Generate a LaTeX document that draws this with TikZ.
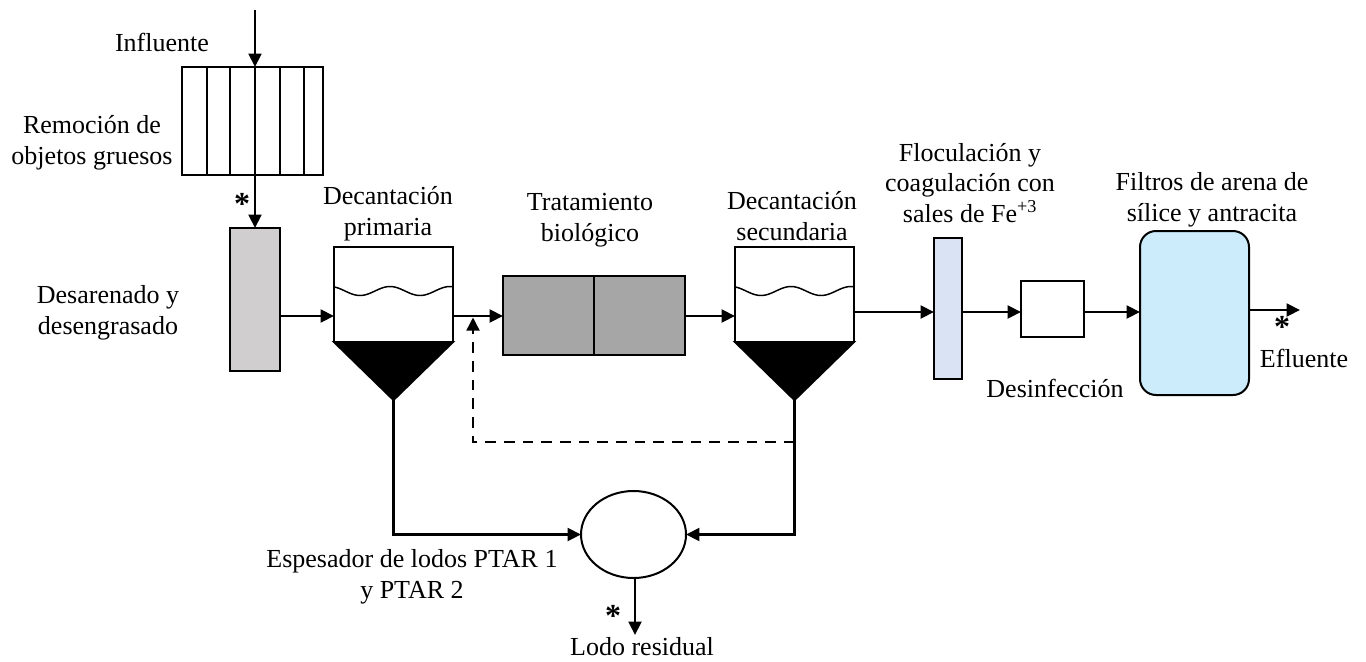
\documentclass[tikz,border=0pt]{standalone}
\usepackage{fontspec}
\setmainfont{Liberation Serif}
\usetikzlibrary{arrows.meta, shapes.geometric, calc}
\newcommand{\flowArrow}{{Triangle[length=10pt, width=9.5pt]}}
\definecolor{gritGray}{HTML}{D0CECE}
\definecolor{bioGray}{HTML}{A6A6A6}
\definecolor{flocBlue}{HTML}{DAE3F3}
\definecolor{filterBlue}{HTML}{CCEBFB}

\begin{document}
\begin{tikzpicture}[x=0.75pt, y=-0.75pt, font=\fontsize{19.5}{23}\selectfont,
	unit/.style={draw, line width=1.5pt, inner sep=0pt, outer sep=0pt},
	flow/.style={line width=2.2pt, -\flowArrow},
	lbl/.style={align=center, inner sep=0pt},
	star/.style={font=\fontsize{24}{24}\selectfont\bfseries, inner sep=0pt, anchor=base}]
	\useasboundingbox (0,0) rectangle (1366,661);

	% process units
	\node[unit, minimum width=141*0.75pt, minimum height=108*0.75pt]	(screen) at (252,121) {};
	\foreach \d in {25,48,73.5,98,122}
		\draw[line width=1.5pt] ([xshift=\d*0.75pt]screen.north west) -- ([xshift=\d*0.75pt]screen.south west);
	\node[unit, fill=gritGray, minimum width=50*0.75pt, minimum height=143*0.75pt]	(grit) at (255,299.5) {};
	\node[unit, minimum width=119*0.75pt, minimum height=95*0.75pt]	(primary) at (393.5,294.5) {};
	\node[unit, fill=bioGray, minimum width=182*0.75pt, minimum height=79*0.75pt]	(bio) at (594,315.5) {};
	\draw[line width=0.8pt] (bio.north) -- (bio.south);
	\node[unit, minimum width=119*0.75pt, minimum height=95*0.75pt]	(secondary) at (794.5,294.5) {};
	\node[unit, fill=flocBlue, minimum width=28*0.75pt, minimum height=141*0.75pt]	(floc) at (948,308.5) {};
	\node[unit, minimum width=63*0.75pt, minimum height=56*0.75pt]	(disinf) at (1052.5,309) {};
	\node[unit, fill=filterBlue, rounded corners=12pt, minimum width=109*0.75pt, minimum height=164*0.75pt]	(filter) at (1194.5,313) {};
	\node[unit, ellipse, minimum width=105*0.75pt, minimum height=87*0.75pt]	(thick) at (633.5,534.5) {};

	% clarifier cones and water surface
	\coordinate (papex) at ($(primary.south)+(0,58)$);
	\coordinate (sapex) at ($(secondary.south)+(0,58)$);
	\draw[line width=1.5pt, fill=black] (primary.south west) -- (primary.south east) -- (papex) -- cycle;
	\draw[line width=1.5pt, fill=black] (secondary.south west) -- (secondary.south east) -- (sapex) -- cycle;
	\draw[line width=1.1pt] plot[domain=334:453, samples=60] (\x, {291-4.5*cos(6*(\x-330))});
	\draw[line width=1.1pt] plot[domain=735:854, samples=60] (\x, {291-4.5*cos(6*(\x-731))});

	% main flow
	\coordinate (inf) at (255,10);
	\coordinate (lvl) at (0,316);
	\coordinate (lvlb) at (0,312);
	\coordinate (eff) at (1300,310);
	\draw[flow]	(inf) -- (inf |- screen.north);
	\draw[flow]	(screen.south -| grit) -- (grit.north);
	\draw[flow]	(grit.east |- lvl) -- (primary.west |- lvl);
	\draw[flow]	(primary.east |- lvl) -- (bio.west |- lvl);
	\draw[flow]	(bio.east |- lvl) -- (secondary.west |- lvl);
	\draw[flow]	(secondary.east |- lvlb) -- (floc.west |- lvlb);
	\draw[flow]	(floc.east |- lvlb) -- (disinf.west |- lvlb);
	\draw[flow]	(disinf.east |- lvlb) -- (filter.west |- lvlb);
	\draw[flow]	(filter.east |- eff) -- (eff);

	% sludge lines
	\coordinate (ret) at (473,442);
	\coordinate (waste) at (635,635);
	\draw[flow]	(papex) -- (papex |- thick) -- (thick.west);
	\draw[flow]	(sapex) -- (sapex |- thick) -- (thick.east);
	\draw[flow, dash pattern=on 8pt off 6pt]	(sapex |- ret) -- (ret) -- ([yshift=-1pt]ret |- lvl);
	\draw[flow]	(thick.south -| waste) -- (waste);

	% labels
	\node[lbl]	(influente) at (162,42) {Influente};
	\node[lbl]	(remocion) at (92,143) {Remoción de\\objetos gruesos};
	\node[lbl]	(desarenado) at (108,313) {Desarenado y\\desengrasado};
	\node[lbl]	(decprim) at (388,214) {Decantación\\primaria};
	\node[lbl]	(trat) at (590,220) {Tratamiento\\biológico};
	\node[lbl]	(decsec) at (792,216) {Decantación\\secundaria};
	\node[lbl]	(floclbl) at (970,183) {Floculación y\\coagulación con\\sales de Fe\textsuperscript{+3}};
	\node[lbl]	(desinf) at (1055,388) {Desinfección};
	\node[lbl]	(filtros) at (1212,200) {Filtros de arena de\\sílice y antracita};
	\node[lbl]	(efluente) at (1304,358) {Efluente};
	\node[lbl]	(espesador) at (412,577) {Espesador de lodos PTAR 1\\y PTAR 2};
	\node[lbl]	(lodo) at (642,647) {Lodo residual};
	\node[star]	(star1) at (242,214) {*};
	\node[star]	(star2) at (1282,337) {*};
	\node[star]	(star3) at (613,626) {*};
\end{tikzpicture}
\end{document}
